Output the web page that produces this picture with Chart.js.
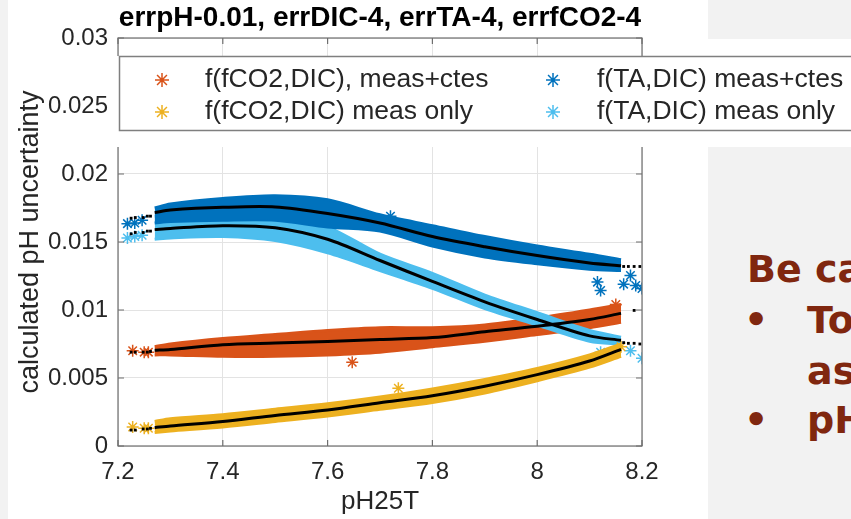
<!DOCTYPE html>
<html>
<head>
<meta charset="utf-8">
<title>pH uncertainty</title>
<script src="https://cdn.jsdelivr.net/npm/chart.js@4.4.1/dist/chart.umd.min.js"></script>
<style>
    html, body { margin: 0; padding: 0; background: #fff; }
    #wrap { position: relative; width: 851px; height: 519px; overflow: hidden; }
    #chart { position: absolute; left: 0; top: 0; }
    .panel { position: absolute; background: #f2f2f2; overflow: hidden; }
    .note {
        position: absolute; white-space: nowrap;
        font: bold 38px "DejaVu Sans", sans-serif; line-height: 38px;
        color: #80270f;
    }
</style>
</head>
<body>
<div id="wrap">
    <canvas id="chart" width="851" height="519"></canvas>
    <div class="panel" style="left:0;top:0;width:8px;height:519px;"></div>
    <div class="panel" style="left:708px;top:0;width:143px;height:39px;"></div>
    <div class="panel" style="left:708px;top:147px;width:143px;height:372px;">
        <div class="note" style="left:39px;top:103px;">Be careful:</div>
        <div class="note" style="left:36px;top:154px;">•</div>
        <div class="note" style="left:99px;top:154px;">Total uncertainty</div>
        <div class="note" style="left:99px;top:205px;">as expected</div>
        <div class="note" style="left:36px;top:254px;">•</div>
        <div class="note" style="left:99px;top:254px;">pH range</div>
    </div>
</div>
<script>
const phGrid = [7.27, 7.3, 7.4, 7.5, 7.6, 7.7, 7.8, 7.9, 8.0, 8.1, 8.16];

const seriesLabels = ['f(fCO2,DIC), meas+ctes', 'f(fCO2,DIC) meas only', 'f(TA,DIC) meas+ctes', 'f(TA,DIC) meas only'];
const seriesColors = ['#D95319', '#EDB120', '#0072BD', '#4DBEEE'];

// f(fCO2,DIC), meas+ctes (orange)
const fco2CtesFit  = [0.00704, 0.0071, 0.00745, 0.00757, 0.00768, 0.00783, 0.00797, 0.0084, 0.0088, 0.0093, 0.00975];
const fco2CtesHigh = [0.0073, 0.0075, 0.0079, 0.0082, 0.0085, 0.0087, 0.0087, 0.0089, 0.0094, 0.0100, 0.0104];
const fco2CtesLow  = [0.0067, 0.0067, 0.0066, 0.0066, 0.0067, 0.0069, 0.0073, 0.0077, 0.0082, 0.0087, 0.0091];

// f(fCO2,DIC) meas only (yellow)
const fco2MeasFit  = [0.00135, 0.00147, 0.0018, 0.00225, 0.00265, 0.00318, 0.0037, 0.0044, 0.00525, 0.00625, 0.00711];
const fco2MeasHigh = [0.0018, 0.0020, 0.0023, 0.0027, 0.0031, 0.0036, 0.0042, 0.0049, 0.0057, 0.0067, 0.0075];
const fco2MeasLow  = [0.0010, 0.0011, 0.0014, 0.0018, 0.0022, 0.0027, 0.0032, 0.0039, 0.0048, 0.0058, 0.0066];

// f(TA,DIC) meas+ctes (dark blue)
const taCtesFit  = [0.01716, 0.01735, 0.01755, 0.01758, 0.0171, 0.0164, 0.0154, 0.01465, 0.0140, 0.01345, 0.01325];
const taCtesHigh = [0.0175, 0.0178, 0.0182, 0.0184, 0.0181, 0.0170, 0.0162, 0.0154, 0.0147, 0.0141, 0.0137];
const taCtesLow  = [0.0164, 0.0165, 0.0166, 0.0166, 0.0161, 0.0158, 0.0147, 0.0139, 0.0134, 0.0130, 0.0129];

// f(TA,DIC) meas only (light blue)
const taMeasFit  = [0.01591, 0.0160, 0.0162, 0.01605, 0.0152, 0.01364, 0.0121, 0.0106, 0.0093, 0.0081, 0.00777];
const taMeasHigh = [0.0169, 0.0170, 0.0171, 0.0170, 0.0161, 0.0141, 0.0127, 0.0111, 0.0098, 0.0085, 0.0080];
const taMeasLow  = [0.0152, 0.0153, 0.0154, 0.0151, 0.0142, 0.0129, 0.0116, 0.0101, 0.0089, 0.0077, 0.0075];

// isolated fit points (black dots) at both ends of the pH range
const endDotsX       = [7.225, 7.233, 7.248, 7.256, 7.262, 8.165, 8.174, 8.185, 8.196];
const fco2CtesDotsY  = [0.0069, 0.0069, 0.0069, 0.0069, 0.00695, null, null, 0.00997, null];
const fco2MeasDotsY  = [0.00117, 0.00117, 0.00125, 0.00125, 0.0013, null, null, null, null];
const taCtesDotsY    = [0.01675, 0.0168, 0.0168, 0.0169, 0.0169, 0.0132, 0.0132, 0.0132, 0.0132];
const taMeasDotsY    = [0.0156, 0.0157, 0.0157, 0.0158, 0.0158, 0.0076, 0.00755, 0.00755, 0.0075];

// stray data points (asterisks) outside the dense clouds
const fco2CtesStarX = [7.228, 7.25, 7.258, 7.647, 8.15];
const fco2CtesStarY = [0.0070, 0.0069, 0.0069, 0.00616, 0.0104];
const fco2MeasStarX = [7.228, 7.25, 7.258, 7.735, 8.16];
const fco2MeasStarY = [0.0014, 0.0013, 0.0013, 0.00425, 0.0073];
const taCtesStarX   = [7.218, 7.232, 7.246, 7.72, 8.115, 8.121, 8.165, 8.178, 8.188, 8.2];
const taCtesStarY   = [0.01635, 0.0164, 0.0166, 0.0169, 0.01205, 0.01144, 0.0119, 0.01254, 0.0118, 0.01158];
const taMeasStarX   = [7.218, 7.232, 7.246, 8.121, 8.178, 8.2];
const taMeasStarY   = [0.0153, 0.0154, 0.0155, 0.0069, 0.0070, 0.00645];

const xTicks = [7.2, 7.4, 7.6, 7.8, 8.0, 8.2];
const titleText = 'errpH-0.01, errDIC-4, errTA-4, errfCO2-4';

const FONT = '"Liberation Sans", Arial, sans-serif';
const INK = '#262626';

function pts(xs, ys) {
    return xs.map((x, i) => ({ x: x, y: ys[i] }));
}

function fitLine(ys) {
    return {
        label: 'fit', data: pts(phGrid, ys), borderColor: '#000', borderWidth: 3,
        pointRadius: 0, fill: false, tension: 0.3
    };
}

function dots(ys) {
    return {
        label: 'fit', data: pts(endDotsX, ys), showLine: false,
        pointStyle: 'rect', pointRadius: 2, backgroundColor: '#000', borderColor: '#000', borderWidth: 0
    };
}

function stars(label, color, xs, ys) {
    return {
        label: label, data: pts(xs, ys), showLine: false,
        pointStyle: 'star', pointRadius: 6, borderColor: color, borderWidth: 1.5
    };
}

// cloud of points drawn as a filled band between its upper and lower edge
function band(label, color, high, low) {
    return [
        {
            label: label, data: pts(phGrid, high), borderColor: color, backgroundColor: color,
            borderWidth: 3, pointRadius: 0, fill: '+1', tension: 0.3
        },
        {
            label: label, data: pts(phGrid, low), borderColor: color,
            borderWidth: 3, pointRadius: 0, fill: false, tension: 0.3
        }
    ];
}

// first dataset is drawn on top
const datasets = [
    fitLine(fco2CtesFit), fitLine(fco2MeasFit), fitLine(taCtesFit), fitLine(taMeasFit),
    dots(fco2CtesDotsY), dots(fco2MeasDotsY), dots(taCtesDotsY), dots(taMeasDotsY),
    stars(seriesLabels[1], seriesColors[1], fco2MeasStarX, fco2MeasStarY),
    ...band(seriesLabels[1], seriesColors[1], fco2MeasHigh, fco2MeasLow),
    stars(seriesLabels[2], seriesColors[2], taCtesStarX, taCtesStarY),
    ...band(seriesLabels[2], seriesColors[2], taCtesHigh, taCtesLow),
    stars(seriesLabels[3], seriesColors[3], taMeasStarX, taMeasStarY),
    ...band(seriesLabels[3], seriesColors[3], taMeasHigh, taMeasLow),
    stars(seriesLabels[0], seriesColors[0], fco2CtesStarX, fco2CtesStarY),
    ...band(seriesLabels[0], seriesColors[0], fco2CtesHigh, fco2CtesLow)
];

function drawStar(ctx, x, y, r) {
    ctx.beginPath();
    for (let k = 0; k < 4; k++) {
        const a = k * Math.PI / 4;
        ctx.moveTo(x - r * Math.cos(a), y - r * Math.sin(a));
        ctx.lineTo(x + r * Math.cos(a), y + r * Math.sin(a));
    }
    ctx.stroke();
}

// box outline with inward ticks on all four sides (MATLAB style)
const axesBox = {
    id: 'axesBox',
    afterDatasetsDraw(chart) {
        const ctx = chart.ctx;
        const a = chart.chartArea;
        const xs = chart.scales.x;
        const ys = chart.scales.y;
        ctx.save();
        ctx.strokeStyle = '#6e6e6e';
        ctx.lineWidth = 1.2;
        ctx.strokeRect(a.left, a.top, a.right - a.left, a.bottom - a.top);
        ctx.beginPath();
        xs.ticks.forEach(t => {
            const px = xs.getPixelForValue(t.value);
            ctx.moveTo(px, a.bottom); ctx.lineTo(px, a.bottom - 6);
            ctx.moveTo(px, a.top); ctx.lineTo(px, a.top + 6);
        });
        ys.ticks.forEach(t => {
            const py = ys.getPixelForValue(t.value);
            ctx.moveTo(a.left, py); ctx.lineTo(a.left + 6, py);
            ctx.moveTo(a.right, py); ctx.lineTo(a.right - 6, py);
        });
        ctx.stroke();
        ctx.restore();
    }
};

// legend box laid over the top of the axes
const boxLegend = {
    id: 'boxLegend',
    afterDraw(chart) {
        const ctx = chart.ctx;
        const a = chart.chartArea;
        ctx.save();
        ctx.fillStyle = '#fff';
        ctx.fillRect(a.left - 1, 56, chart.width, 91);

        ctx.strokeStyle = '#7f7f7f';
        ctx.lineWidth = 1.5;
        ctx.strokeRect(119.5, 56.5, 760, 74);

        const markX = [162, 553];
        const textX = [205, 597];
        const rowY = [80, 112];
        ctx.font = '26.5px ' + FONT;
        ctx.textBaseline = 'middle';
        seriesLabels.forEach((lab, i) => {
            const col = Math.floor(i / 2);
            const row = i % 2;
            ctx.strokeStyle = seriesColors[i];
            ctx.lineWidth = 1.5;
            drawStar(ctx, markX[col], rowY[row], 7);
            ctx.fillStyle = INK;
            ctx.fillText(lab, textX[col], rowY[row]);
        });
        ctx.restore();
    }
};

document.addEventListener('DOMContentLoaded', function () {
    new Chart(document.getElementById('chart'), {
        type: 'line',
        data: { datasets: datasets },
        plugins: [axesBox, boxLegend],
        options: {
            responsive: false,
            animation: false,
            layout: { padding: { left: 0, top: 0, right: 209, bottom: 0 } },
            plugins: {
                legend: { display: false },
                tooltip: { enabled: false },
                title: {
                    display: true,
                    text: titleText,
                    fullSize: false,
                    color: '#000',
                    font: { family: FONT, size: 28, weight: 'bold', lineHeight: 1.2 },
                    padding: { top: 1, bottom: 3.4 }
                }
            },
            scales: {
                x: {
                    type: 'linear',
                    min: 7.2,
                    max: 8.2,
                    afterBuildTicks(scale) {
                        scale.ticks = xTicks.map(v => ({ value: v }));
                    },
                    afterFit(scale) { scale.height = 73; },
                    grid: { color: '#e3e3e3', drawTicks: false },
                    border: { display: false },
                    ticks: {
                        color: INK,
                        font: { family: FONT, size: 24 },
                        padding: 12,
                        maxRotation: 0,
                        callback: v => String(Number(v.toFixed(1)))
                    },
                    title: {
                        display: true,
                        text: 'pH25T',
                        color: INK,
                        font: { family: FONT, size: 26 },
                        padding: { top: 0, bottom: 2 }
                    }
                },
                y: {
                    min: 0,
                    max: 0.03,
                    afterFit(scale) { scale.width = 118; },
                    grid: { color: '#e3e3e3', drawTicks: false },
                    border: { display: false },
                    ticks: {
                        stepSize: 0.005,
                        color: INK,
                        font: { family: FONT, size: 24 },
                        padding: 10,
                        callback: v => String(Number(v.toFixed(3)))
                    },
                    title: {
                        display: true,
                        text: 'calculated pH uncertainty',
                        color: INK,
                        font: { family: FONT, size: 27 },
                        padding: { top: 14, bottom: 0 }
                    }
                }
            }
        }
    });
});
</script>
</body>
</html>
